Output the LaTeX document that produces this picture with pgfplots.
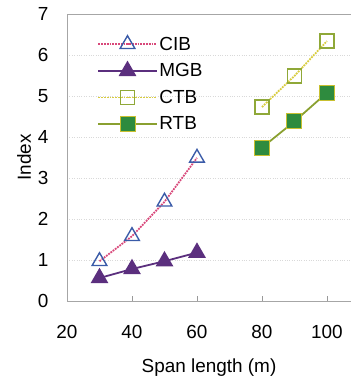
\documentclass[border=0pt]{standalone}
\usepackage{pgfplots}
\pgfplotsset{compat=1.18}
\usepackage{fontspec}
\setmainfont{Liberation Sans}
\definecolor{cibline}{HTML}{D8487A}
\definecolor{cibmark}{HTML}{3A5BA8}
\definecolor{mgb}{HTML}{5B2F7E}
\definecolor{ctbline}{HTML}{D8CC40}
\definecolor{ctbmark}{HTML}{8FA838}
\definecolor{rtbline}{HTML}{8AA030}
\definecolor{rtbfill}{HTML}{2E8B3E}
\definecolor{rtbdraw}{HTML}{C8C030}
\begin{document}
\begin{tikzpicture}
\begin{axis}[
  name=ax,
  scale only axis,
  width=284bp, height=287bp,
  xmin=20, xmax=107.4, ymin=0, ymax=7,
  xtick={20,40,60,80,100}, ytick={0,1,...,7},
  axis x line*=bottom, axis y line*=left,
  axis line style={draw=black!35, line width=0.8pt},
  x tick style={draw=black!40, line width=0.6pt},
  major tick length=5bp,
  tick align=inside,
  ytick style={draw=none},
  ymajorgrids, grid style={dotted, black!15, line width=0.6pt},
  /pgf/number format/assume math mode=true,
  tick label style={font=\fontsize{19}{22}\selectfont},
  xticklabel style={yshift=-21bp},
  yticklabel style={xshift=-15bp},
  label style={font=\fontsize{19}{22}\selectfont},
  xlabel={Span length (m)},
  ylabel={Index},
  xlabel style={yshift=-13bp},
  ylabel style={yshift=0bp},
  legend style={at={(0.1,0.935)}, anchor=north west, draw=none, fill=none,
    font=\fontsize{19}{22}\selectfont, row sep=8bp, inner sep=2bp},
  legend cell align=left,
  legend image code/.code={\draw[mark repeat=2,mark phase=2] plot coordinates {(0bp,0bp)(29bp,0bp)(58bp,0bp)};},
]
\draw[black!35, line width=0.8pt] (rel axis cs:0,1) -- (rel axis cs:1,1);
\addplot[cibline, densely dotted, line width=1.8pt, mark=triangle, mark size=8.5bp,
  mark options={solid, draw=cibmark, fill=white, line width=1.4pt}]
  coordinates {(30,0.97) (40,1.58) (50,2.42) (60,3.49)};
\addlegendentry{CIB}
\addplot[mgb, solid, line width=1.8pt, mark=triangle*, mark size=8.5bp,
  mark options={draw=mgb, fill=mgb}]
  coordinates {(30,0.56) (40,0.78) (50,0.97) (60,1.18)};
\addlegendentry{MGB}
\addplot[ctbline, densely dotted, line width=1.8pt, mark=square, mark size=7bp,
  mark options={solid, draw=ctbmark, fill=white, line width=1.4pt}]
  coordinates {(80,4.73) (90,5.49) (100,6.34)};
\addlegendentry{CTB}
\addplot[rtbline, solid, line width=1.8pt, mark=square*, mark size=7.5bp,
  mark options={draw=rtbdraw, fill=rtbfill, line width=1pt}]
  coordinates {(80,3.74) (90,4.38) (100,5.08)};
\addlegendentry{RTB}
\end{axis}
\pgfresetboundingbox
\path[use as bounding box] ([xshift=-67bp,yshift=-75bp]ax.south west) rectangle ([yshift=14bp]ax.north east);
\end{tikzpicture}
\end{document}
